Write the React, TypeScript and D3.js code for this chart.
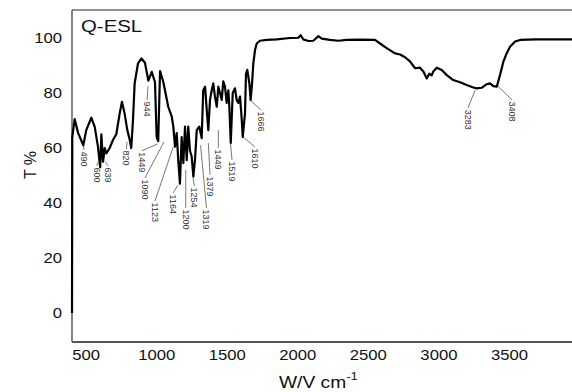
import React, { useEffect, useRef } from 'react';
import * as d3 from 'd3';

// IR spectrum: wavenumber (cm-1) and transmittance (%)
const wavenumbers = [
  400, 402, 419, 443, 480, 501, 537, 561, 584, 594, 600, 608, 620, 632, 643, 667, 691, 714, 738, 754,
  773, 792, 809, 820, 832, 844, 868, 892, 917, 941, 965, 988, 1000, 1011, 1024, 1047, 1082, 1107, 1118, 1130,
  1142, 1153, 1165, 1177, 1189, 1201, 1213, 1224, 1236, 1248, 1260, 1272, 1284, 1302, 1319, 1330, 1343, 1355, 1366, 1378,
  1390, 1401, 1413, 1426, 1437, 1449, 1461, 1472, 1484, 1496, 1508, 1515, 1525, 1539, 1555, 1567, 1579, 1591, 1603, 1610,
  1626, 1633, 1642, 1657, 1666, 1676, 1685, 1697, 1709, 1732, 1780, 1851, 1945, 2004, 2021, 2039, 2075, 2110, 2146, 2170,
  2228, 2287, 2347, 2441, 2547, 2583, 2630, 2689, 2725, 2760, 2795, 2831, 2866, 2890, 2914, 2932, 2949, 2960, 2985, 3020,
  3056, 3102, 3150, 3197, 3244, 3268, 3303, 3339, 3362, 3386, 3410, 3433, 3457, 3480, 3504, 3540, 3575, 3693, 4000,
];
const transmittance = [
  0, 64, 70.5, 65.5, 61, 66.5, 71, 67.7, 60.5, 55.5, 53, 65, 55, 60, 58, 60, 63, 65, 72.6, 76.8,
  72.5, 66.5, 63, 60, 70, 83.5, 90.8, 92.6, 91, 84.5, 87.7, 84, 64, 62.5, 88, 84, 75, 71.4, 67.8, 60.5,
  65.4, 55.6, 47, 64, 54.5, 67.8, 55.6, 67.8, 59, 57, 49.6, 56, 66.5, 67.8, 63.6, 81, 82.3, 73.8, 66.5, 77.5,
  81, 83.5, 78.7, 75, 82.3, 80, 77.5, 84.2, 82.3, 76.4, 81, 75, 61.8, 80, 81.7, 77.5, 76.4, 78.7, 70.2, 64,
  72.6, 87, 88.4, 83.5, 77.5, 83.5, 90.8, 95.6, 98, 99, 99.3, 99.5, 100, 100.1, 101, 99.5, 98.9, 99, 100.7, 99.8,
  99.3, 99, 99.3, 99.4, 99.3, 98, 96.3, 94.4, 94, 93, 91.5, 89, 89.2, 87.8, 85.3, 87, 86.4, 87.8, 89.2, 88.4,
  86.5, 84.7, 83.9, 82.9, 82, 81.7, 81.9, 83.2, 83.5, 82.5, 82.3, 86.5, 91.4, 94.4, 96.8, 98.7, 99.3, 99.5, 99.5,
];

// peak labels: text, leader start (w, T) on the curve, leader end (w, T)
const peakLabels = ['490', '600', '639', '820', '944', '1449', '1090', '1123', '1164', '1200', '1254', '1319', '1379', '1449', '1519', '1610', '1666', '3283', '3408'];
const leaderFrom: [number, number][] = [
  [480, 61.7], [586, 55], [634, 55], [790, 62.2], [939, 82.5], [1007, 61.5], [1052, 62.2], [1118, 60.5], [1151, 46.5], [1206, 52],
  [1258, 49], [1311, 61], [1366, 61.8], [1437, 66.5], [1523, 61.8], [1612, 64], [1661, 77.5], [3257, 81.1], [3410, 82.9],
];
const leaderTo: [number, number][] = [
  [485, 59.3], [575, 53.5], [657, 53.5], [786, 59.6], [932, 77.5], [896, 59], [917, 49.1], [988, 40.7], [1116, 43.6], [1206, 38.2],
  [1268, 46.2], [1353, 38.2], [1378, 50.2], [1437, 60], [1534, 55.6], [1697, 60.4], [1739, 73.8], [3206, 74.5], [3518, 77.5],
];

const xTicks = [500, 1000, 1500, 2000, 2500, 3000, 3500];
const yTicks = [0, 20, 40, 60, 80, 100];

const App: React.FC = () => {
  const width = 572;
  const height = 392;
  const svgRef = useRef<SVGSVGElement>(null);

  useEffect(() => {
    if (!svgRef.current) return;
    const svg = d3.select(svgRef.current);
    svg.selectAll('*').remove();

    const left = 72;
    const top = 10;
    const bottom = 342;

    const x = d3.scaleLinear().domain([400, 4000]).range([left, 580]);
    const y = d3.scaleLinear().domain([0, 100]).range([313, 38]);

    const font = 'Liberation Sans, Arial, sans-serif';
    const stretch = 1.15; // the reference text is a little wide

    // frame
    svg.append('line')
      .attr('x1', left).attr('y1', top).attr('x2', width).attr('y2', top)
      .attr('stroke', '#222').attr('stroke-width', 1);
    svg.append('line')
      .attr('x1', left).attr('y1', top).attr('x2', left).attr('y2', bottom)
      .attr('stroke', '#333').attr('stroke-width', 1.2);
    svg.append('line')
      .attr('x1', left).attr('y1', bottom).attr('x2', width).attr('y2', bottom)
      .attr('stroke', '#555').attr('stroke-width', 2);

    // tick labels
    svg.selectAll('.xt')
      .data(xTicks)
      .enter()
      .append('text')
      .attr('transform', d => `translate(${x(d)},360) scale(${stretch},1)`)
      .attr('text-anchor', 'middle')
      .attr('font-family', font)
      .attr('font-size', 14.5)
      .attr('fill', '#111')
      .text(d => d.toString());

    svg.selectAll('.yt')
      .data(yTicks)
      .enter()
      .append('text')
      .attr('transform', d => `translate(62,${y(d) + 5}) scale(${stretch},1)`)
      .attr('text-anchor', 'end')
      .attr('font-family', font)
      .attr('font-size', 14.5)
      .attr('fill', '#111')
      .text(d => d.toString());

    // axis titles
    svg.append('text')
      .attr('transform', 'translate(36,165) rotate(-90)')
      .attr('text-anchor', 'middle')
      .attr('font-family', font)
      .attr('font-size', 16)
      .attr('fill', '#111')
      .text('T %');

    const xt = svg.append('text')
      .attr('transform', `translate(279,388) scale(${stretch + 0.05},1)`)
      .attr('font-family', font)
      .attr('font-size', 16)
      .attr('fill', '#111');
    xt.append('tspan').text('W/V cm');
    xt.append('tspan').attr('dy', -8).attr('font-size', 11).text('-1');

    // title
    svg.append('text')
      .attr('transform', 'translate(81,32) scale(1.2,1)')
      .attr('font-family', font)
      .attr('font-size', 17)
      .attr('fill', '#111')
      .text('Q-ESL');

    // leaders and labels
    peakLabels.forEach((lab, i) => {
      const [w1, t1] = leaderFrom[i];
      const [w2, t2] = leaderTo[i];
      svg.append('line')
        .attr('x1', x(w1)).attr('y1', y(t1))
        .attr('x2', x(w2)).attr('y2', y(t2))
        .attr('stroke', '#555')
        .attr('stroke-width', 0.8);
      svg.append('text')
        .attr('transform', `translate(${x(w2)},${y(t2) + 1.5}) rotate(90)`)
        .attr('dominant-baseline', 'central')
        .attr('font-family', font)
        .attr('font-size', 9)
        .attr('fill', '#333')
        .text(lab);
    });

    // spectrum
    const pts: [number, number][] = wavenumbers.map((w, i) => [w, transmittance[i]]);
    const line = d3.line<[number, number]>()
      .x(d => x(d[0]))
      .y(d => y(d[1]));

    svg.append('path')
      .datum(pts)
      .attr('d', line)
      .attr('fill', 'none')
      .attr('stroke', '#000')
      .attr('stroke-width', 2.2)
      .attr('stroke-linejoin', 'round');
  }, []);

  return (
    <svg
      ref={svgRef}
      width={width}
      height={height}
      style={{ position: 'absolute', left: 0, top: 0, background: '#fff' }}
    />
  );
};

export default App;
